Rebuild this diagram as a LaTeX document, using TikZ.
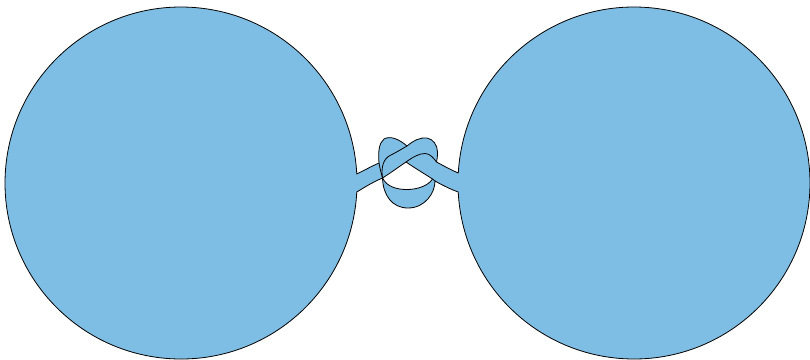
\documentclass[tikz,border=0pt]{standalone}
\definecolor{blu}{RGB}{127,190,228}
\begin{document}
\begin{tikzpicture}[x=1pt,y=-1pt,line width=0.8pt,line join=round,
  surface/.style={fill=blu,draw=black},
  hole/.style={fill=white,draw=black},
  edge/.style={draw=black}]
\useasboundingbox (0,0) rectangle (810,359);
% silhouette: two disks joined by the knotted band
\path[surface] (356.77,174) coordinate (lt)
  .. controls (365,170) and (372,166) .. (379,163) coordinate (lx)
  .. controls (378,152) and (379,143) .. (384,139)
  .. controls (390,135.5) and (399,139) .. (407,146) coordinate (valley)
  .. controls (413,141) and (420,137) .. (427,138)
  .. controls (433,139) and (437.5,145) .. (437.5,152)
  .. controls (437.5,157) and (437,160) .. (436.5,162) coordinate (rx)
  .. controls (444,166) and (451,170) .. (458.28,173)
  arc[start angle=183.257,end angle=537.069,radius=176]
  .. controls (450,189) and (442,185) .. (435,181) coordinate (ry)
  .. controls (435,193) and (425,208) .. (408,208)
  .. controls (392,208) and (383,195) .. (382.5,178) coordinate (ly)
  .. controls (373,182) and (365,187) .. (356.77,192)
  arc[start angle=2.931,end angle=357.069,radius=176] -- cycle;
% loop side passing over the left strip
\draw[edge] (lx) .. controls (380,169) and (381.5,174) .. (ly);
% white hole
\path[hole] (ly) .. controls (392,172) and (400,166) .. (406,162) coordinate (mid)
  .. controls (414,167.5) and (424,173.5) .. (432.5,179) coordinate (hr)
  .. controls (428,186) and (417,189.5) .. (407,189.5)
  .. controls (397,189.5) and (387,187) .. (ly) -- cycle;
% band edges
\draw[edge] (mid) .. controls (413,157) and (419,153.5) .. (425,153.5)
  .. controls (430,153.5) and (433.5,158) .. (rx);
\draw[edge] (hr) -- (ry);
\draw[edge] (ly) .. controls (381,168) and (383,159) .. (390,155.5)
  .. controls (396,152.5) and (401,149.5) .. (valley);
\end{tikzpicture}
\end{document}
